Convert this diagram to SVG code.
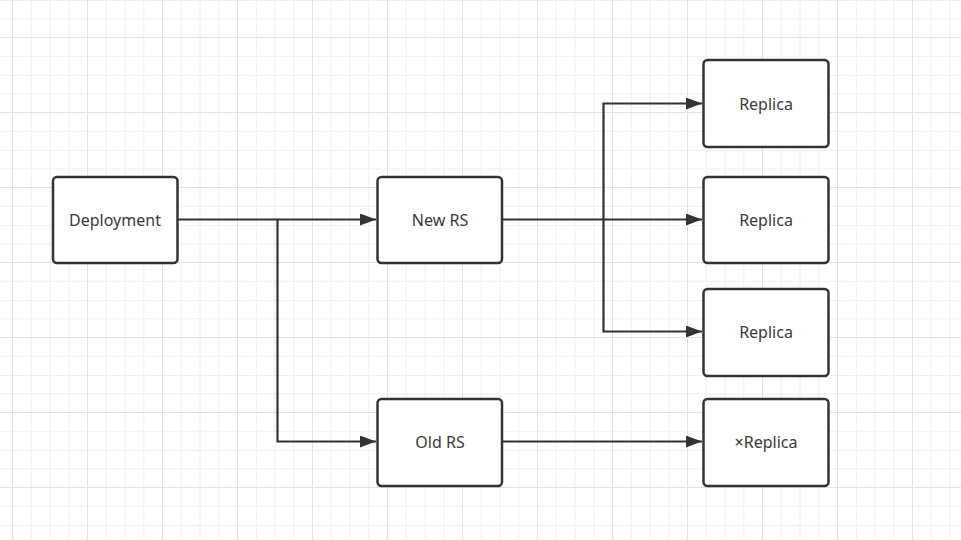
<svg xmlns="http://www.w3.org/2000/svg" width="961" height="540" viewBox="0 0 961 540">
<defs>
<pattern id="grid" patternUnits="userSpaceOnUse" x="0" y="0" width="75" height="75">
<g stroke="#f0f0f0" stroke-width="1" fill="none">
<line x1="31.25" y1="0" x2="31.25" y2="75"/>
<line x1="50" y1="0" x2="50" y2="75"/>
<line x1="68.75" y1="0" x2="68.75" y2="75"/>
<line x1="0" y1="0.5" x2="75" y2="0.5"/>
<line x1="0" y1="18.75" x2="75" y2="18.75"/>
<line x1="0" y1="56.25" x2="75" y2="56.25"/>
</g>
<g stroke="#e2e2e2" stroke-width="1" fill="none">
<line x1="12.5" y1="0" x2="12.5" y2="75"/>
<line x1="0" y1="37.5" x2="75" y2="37.5"/>
</g>
</pattern>
<marker id="arrow" viewBox="0 0 16 12" refX="16" refY="6" markerWidth="16" markerHeight="12" markerUnits="userSpaceOnUse" orient="auto">
<path d="M0,0 L16,6 L0,12 Z" fill="#333333"/>
</marker>
</defs>
<style>
.box{fill:#ffffff;stroke:#333333;stroke-width:2.5}
.lbl{font-family:"Noto Sans","Open Sans","Liberation Sans",sans-serif;font-size:16px;fill:#3a3a3a;text-anchor:middle;dominant-baseline:central}
.edge{fill:none;stroke:#333333;stroke-width:2.2}
</style>
<rect width="961" height="540" fill="#ffffff"/>
<rect width="961" height="540" fill="url(#grid)"/>
<g id="connectors">
<path class="edge" d="M178,219.5 H376" marker-end="url(#arrow)"/>
<path class="edge" d="M277.5,219.5 V441.5 H376" marker-end="url(#arrow)"/>
<path class="edge" d="M503,219.5 H702" marker-end="url(#arrow)"/>
<path class="edge" d="M603.5,219.5 V103.5 H702" marker-end="url(#arrow)"/>
<path class="edge" d="M603.5,219.5 V331.5 H702" marker-end="url(#arrow)"/>
<path class="edge" d="M503,441.5 H702" marker-end="url(#arrow)"/>
</g>
<g id="deployment">
<rect class="box" x="53" y="177" width="124.5" height="86" rx="4"/>
<text class="lbl" x="115" y="220">Deployment</text>
</g>
<g id="new-rs">
<rect class="box" x="377.5" y="177" width="124.5" height="86" rx="4"/>
<text class="lbl" x="440" y="220">New RS</text>
</g>
<g id="old-rs">
<rect class="box" x="377.5" y="399" width="124.5" height="87" rx="4"/>
<text class="lbl" x="440" y="442">Old RS</text>
</g>
<g id="replica-1">
<rect class="box" x="703.5" y="60" width="125" height="87" rx="4"/>
<text class="lbl" x="766" y="104">Replica</text>
</g>
<g id="replica-2">
<rect class="box" x="703.5" y="177" width="125" height="86" rx="4"/>
<text class="lbl" x="766" y="220">Replica</text>
</g>
<g id="replica-3">
<rect class="box" x="703.5" y="289" width="125" height="87" rx="4"/>
<text class="lbl" x="766" y="332">Replica</text>
</g>
<g id="replica-x">
<rect class="box" x="703.5" y="399" width="125" height="87" rx="4"/>
<text class="lbl" x="766" y="442">×Replica</text>
</g>
</svg>
